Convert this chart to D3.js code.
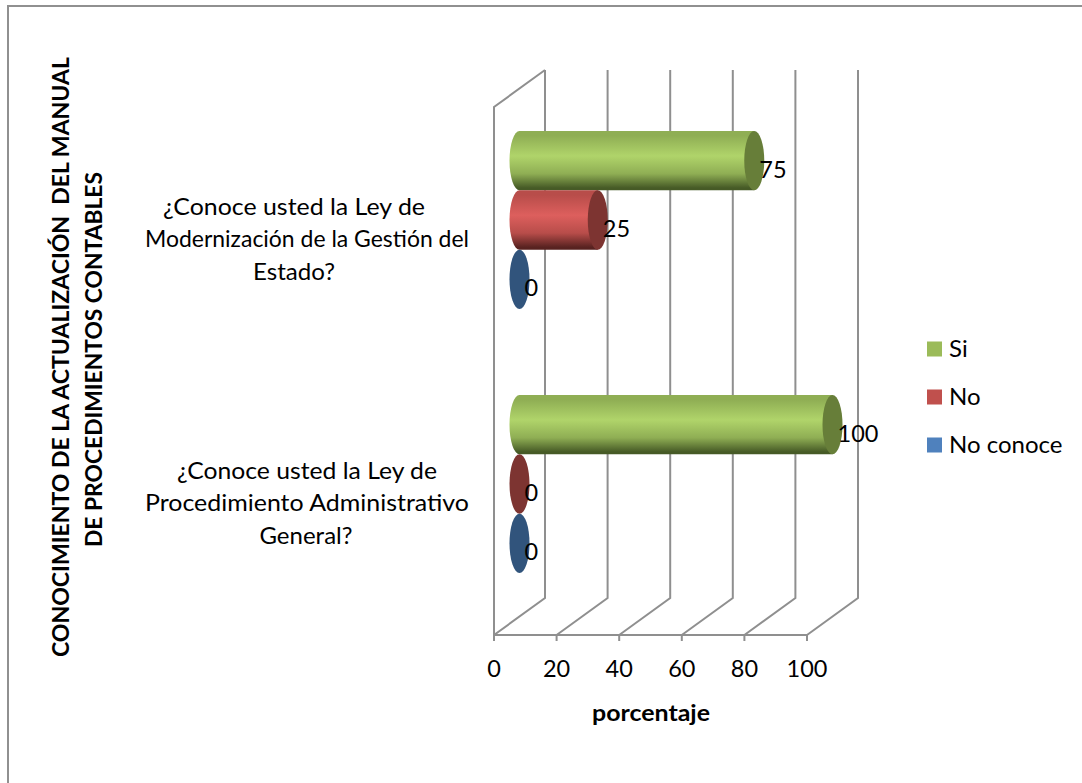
<!DOCTYPE html>
<html>
<head>
<meta charset="utf-8">
<script src="https://cdn.jsdelivr.net/npm/d3@7/dist/d3.min.js"></script>
<style>
html, body { margin: 0; padding: 0; background: #fff; }
svg { display: block; }
text { font-family: Lato, "Open Sans", sans-serif; fill: #000; white-space: pre; }
</style>
</head>
<body>
<script>
const categories = [
  ["¿Conoce usted la Ley de", "Modernización de la Gestión del", "Estado?"],
  ["¿Conoce usted la Ley de", "Procedimiento Administrativo", "General?"]
];
const seriesNames = ["Si", "No", "No conoce"];
const valuesSi = [75, 100];
const valuesNo = [25, 0];
const valuesNoConoce = [0, 0];
const xTicks = [0, 20, 40, 60, 80, 100];
const yTitleLines = ["CONOCIMIENTO DE LA ACTUALIZACIÓN  DEL MANUAL", "DE PROCEDIMIENTOS CONTABLES"];
const xTitle = "porcentaje";

const W = 1082, H = 783;
const floorY = 635, topY = 107;
const depthX = 51, depthY = -37;
const barRx = 10;

const svg = d3.select("body").append("svg").attr("width", W).attr("height", H);

const x = d3.scaleLinear().domain([0, 100]).range([494, 807]);
const yCat = d3.scaleBand().domain([0, 1]).range([topY, floorY]);
const ySeries = d3.scaleBand().domain([0, 1, 2]).range([0, 178]);
const groupShift = -19 - 89;

const palette = {
  "Si":        { light: "#b0d46a", mid: "#8fae54", dark: "#465a26", cap: "#677e39", legend: "#9bbb59" },
  "No":        { light: "#dd5f5d", mid: "#b84d4a", dark: "#582220", cap: "#7d3431", legend: "#c0504d" },
  "No conoce": { light: "#5c86bd", mid: "#4a74a8", dark: "#243f62", cap: "#31547c", legend: "#4f81bd" }
};

// Cylinder shading runs across the bar's height
const defs = svg.append("defs");
seriesNames.forEach((name, i) => {
  const c = palette[name];
  const g = defs.append("linearGradient").attr("id", "shade" + i)
    .attr("x1", 0).attr("y1", 0).attr("x2", 0).attr("y2", 1);
  [[0, c.mid], [0.08, c.mid], [0.42, c.light], [0.72, c.mid], [0.96, c.dark], [1, c.dark]]
    .forEach(([o, col]) => g.append("stop").attr("offset", o).attr("stop-color", col));
});

// Outer frame: only the top and left edges fall inside the page
svg.append("rect").attr("x", 8).attr("y", 6).attr("width", 1120).attr("height", 800)
  .attr("fill", "none").attr("stroke", "#909090").attr("stroke-width", 2);

// Back wall gridlines, floor receding lines and side wall
const gridColor = "#8f8f8f";
const grid = svg.append("g").attr("stroke", gridColor).attr("fill", "none").attr("stroke-width", 2);
xTicks.forEach(t => {
  grid.append("path").attr("d", d3.line()([
    [x(t), floorY],
    [x(t) + depthX, floorY + depthY],
    [x(t) + depthX, topY + depthY]
  ]));
});
grid.append("path").attr("d", d3.line()([
  [x(0), floorY], [x(0), topY], [x(0) + depthX, topY + depthY]
]));
grid.append("path").attr("d", d3.line()([[x(0), floorY], [x(100), floorY]]));
xTicks.forEach(t => {
  grid.append("line").attr("x1", x(t)).attr("x2", x(t)).attr("y1", floorY).attr("y2", floorY + 6);
});

// Horizontal value axis labels
svg.append("g").selectAll("text").data(xTicks).join("text")
  .attr("x", d => x(d)).attr("y", 677).attr("text-anchor", "middle")
  .attr("font-size", 23.5).text(d => d);

svg.append("text").attr("x", 651).attr("y", 721).attr("text-anchor", "middle")
  .attr("font-size", 23).attr("font-weight", 700)
  .attr("textLength", 118).attr("lengthAdjust", "spacingAndGlyphs").text(xTitle);

// Category labels, each line fitted to its measured run width
const categoryLineX = [[294, 307, 294], [307, 307, 306]];
const categoryLineW = [[262, 324, 82], [260, 324, null]];
categories.forEach((lines, c) => {
  const cy = yCat(c) + yCat.bandwidth() / 2;
  lines.forEach((line, i) => {
    const t = svg.append("text").attr("text-anchor", "middle").attr("font-size", 24)
      .attr("x", categoryLineX[c][i])
      .attr("y", cy + (i - 1) * 32.5 + 8)
      .text(line);
    if (categoryLineW[c][i]) t.attr("textLength", categoryLineW[c][i]).attr("lengthAdjust", "spacingAndGlyphs");
  });
});

// Cylinders: drawn top group first, each series stacked downward
const allValues = [valuesSi, valuesNo, valuesNoConoce];
const barStart = x(0) + depthX / 2;
const marks = svg.append("g");
const labels = svg.append("g");
categories.forEach((_, c) => {
  const groupTop = yCat(c) + yCat.bandwidth() / 2 + groupShift;
  seriesNames.forEach((name, s) => {
    const v = allValues[s][c];
    const h = ySeries.bandwidth();
    const top = groupTop + ySeries(s);
    const cyl = top + h / 2;
    const x1 = barStart + (x(v) - x(0));
    if (v > 0) {
      marks.append("path")
        .attr("d", `M${barStart},${top} L${x1},${top} L${x1},${top + h} L${barStart},${top + h} A${barRx},${h / 2} 0 0 1 ${barStart},${top} Z`)
        .attr("fill", `url(#shade${s})`);
    }
    marks.append("ellipse").attr("cx", x1).attr("cy", cyl).attr("rx", barRx).attr("ry", h / 2)
      .attr("fill", palette[name].cap);
    labels.append("text").attr("x", x1 + 5).attr("y", cyl + 17).attr("font-size", 23.5).text(v);
  });
});

// Legend
const legendY = d3.scalePoint().domain(seriesNames).range([349, 445]);
seriesNames.forEach(name => {
  svg.append("rect").attr("x", 927).attr("y", legendY(name) - 7.5).attr("width", 15).attr("height", 15)
    .attr("fill", palette[name].legend);
  svg.append("text").attr("x", 949).attr("y", legendY(name) + 8).attr("font-size", 24).text(name);
});

// Rotated axis title
const yTitleW = [600, 375];
svg.append("g").selectAll("text").data(yTitleLines).join("text")
  .attr("transform", (d, i) => `translate(${i === 0 ? 69 : 102},${i === 0 ? 357 : 359.5}) rotate(-90)`)
  .attr("text-anchor", "middle").attr("font-size", 22.5).attr("font-weight", 700)
  .attr("textLength", (d, i) => yTitleW[i]).attr("lengthAdjust", "spacingAndGlyphs")
  .text(d => d);
</script>
</body>
</html>
